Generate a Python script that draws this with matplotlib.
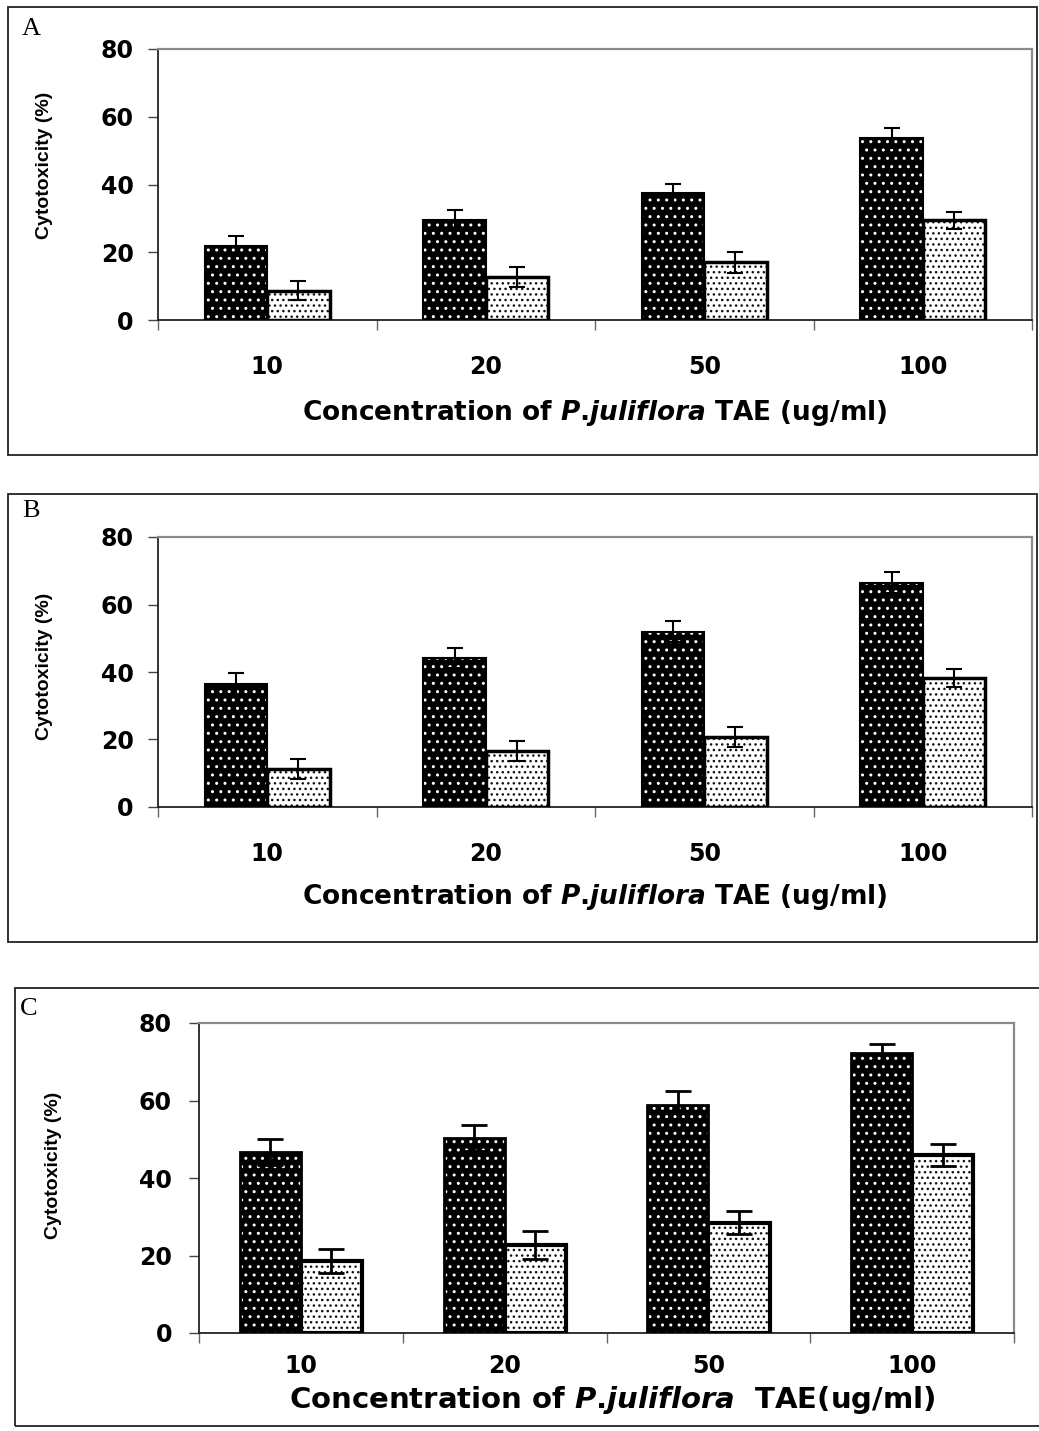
import numpy as np
import matplotlib
matplotlib.use('Agg')
import matplotlib.pyplot as plt
from matplotlib.patches import Rectangle

# ---------------------------
# data
# ---------------------------
concentrations = ['10', '20', '50', '100']

a_dark = [21.8, 29.5, 37.4, 53.8]
a_dark_err = [3.0, 2.9, 2.8, 2.9]
a_light = [8.6, 12.6, 17.0, 29.4]
a_light_err = [2.8, 2.9, 3.0, 2.6]

b_dark = [36.5, 44.2, 52.0, 66.5]
b_dark_err = [3.1, 3.0, 3.0, 3.1]
b_light = [11.3, 16.6, 20.8, 38.3]
b_light_err = [3.0, 3.0, 3.0, 2.6]

c_dark = [46.7, 50.3, 58.9, 72.3]
c_dark_err = [3.3, 3.3, 3.6, 2.4]
c_light = [18.6, 22.7, 28.5, 46.0]
c_light_err = [3.2, 3.5, 3.0, 2.8]

yticks = [0, 20, 40, 60, 80]

xlabel_ab = r'Concentration of $\mathbfit{P}$.$\mathbfit{juliflora}$ TAE (ug/ml)'
xlabel_c = r'Concentration of $\mathbfit{P}$.$\mathbfit{juliflora}$  TAE(ug/ml)'

plt.rcParams['hatch.linewidth'] = 1.0

W, H = 1039, 1431
fig = plt.figure(figsize=(W / 100, H / 100), dpi=100)


def px_axes(left, top, right, bottom):
    return fig.add_axes([left / W, 1 - bottom / H, (right - left) / W, (bottom - top) / H])


def frame(left, top, right, bottom):
    fig.patches.append(Rectangle((left / W, 1 - bottom / H), (right - left) / W, (bottom - top) / H,
                                 transform=fig.transFigure, fill=False,
                                 edgecolor='#222222', linewidth=1.3))


def panel(ax, dark, dark_err, light, light_err, w, xlabel, style):
    x = np.arange(len(concentrations))
    # black bars with white dots
    ax.bar(x - w / 2, dark, w, color='black', edgecolor='white', hatch='..', linewidth=0, zorder=2)
    ax.bar(x - w / 2, dark, w, fill=False, edgecolor='black', linewidth=style['blw'], zorder=3)
    # light bars with dark dots
    ax.bar(x + w / 2, light, w, color='white', edgecolor='#111111', hatch='...', linewidth=0, zorder=2)
    ax.bar(x + w / 2, light, w, fill=False, edgecolor='black', linewidth=style['llw'], zorder=3)
    for xx, v, e in [(x - w / 2, dark, dark_err), (x + w / 2, light, light_err)]:
        ax.errorbar(xx, v, yerr=e, fmt='none', ecolor='black', elinewidth=style['elw'],
                    capsize=style['cap'], capthick=style['elw'], zorder=4)

    ax.set_xlim(-0.5, 3.5)
    ax.set_ylim(0, 80)
    ax.set_yticks(yticks)
    ax.set_xticks(x)
    ax.set_xticklabels(concentrations)
    ax.set_xticks(np.arange(-0.5, 4, 1), minor=True)
    ax.tick_params(axis='x', which='major', length=0, pad=style['xpad'])
    ax.tick_params(axis='x', which='minor', length=7, direction='out', color='#666666', width=1)
    ax.tick_params(axis='y', length=7.5, direction='out', color='#444444', width=1, pad=style['ypad'])
    for lab in ax.get_xticklabels() + ax.get_yticklabels():
        lab.set_fontfamily('DejaVu Sans')
        lab.set_fontweight('bold')
        lab.set_fontsize(style['tick_fs'])

    ax.spines['left'].set_color('#222222')
    ax.spines['left'].set_linewidth(1.3)
    ax.spines['bottom'].set_color('#222222')
    ax.spines['bottom'].set_linewidth(1.3)
    for s in ['top', 'right']:
        ax.spines[s].set_color('#8a8a8a')
        ax.spines[s].set_linewidth(1.6)

    ax.set_ylabel('Cytotoxicity (%)', fontsize=14, fontweight='bold', family='Liberation Sans')
    ax.yaxis.set_label_coords(*style['ylab'])
    ax.set_xlabel(xlabel, fontsize=style['xl_fs'], fontweight='bold', family='DejaVu Sans',
                  math_fontfamily='dejavusans')
    ax.xaxis.set_label_coords(*style['xlab'])
    ax.xaxis.label.set_va('center')


style_ab = dict(blw=1.5, llw=2.5, elw=1.5, cap=6, xpad=25, ypad=10,
                tick_fs=17, xl_fs=19, ylab=(-0.12, 0.572), xlab=(0.5, -0.343))

# ---------------------------
# A
# ---------------------------
frame(8, 7, 1037, 455)
axA = px_axes(158, 49, 1032, 320)
panel(axA, a_dark, a_dark_err, a_light, a_light_err, 0.285, xlabel_ab, style_ab)
fig.text(22 / W, 1 - 35 / H, 'A', family='Liberation Serif', fontsize=19, va='baseline')

# ---------------------------
# B
# ---------------------------
frame(8, 494, 1037, 942)
axB = px_axes(158, 537, 1032, 807)
style_b = dict(style_ab, ylab=(-0.12, 0.52), xlab=(0.5, -0.333))
panel(axB, b_dark, b_dark_err, b_light, b_light_err, 0.285, xlabel_ab, style_b)
fig.text(22 / W, 1 - 517 / H, 'B', family='Liberation Serif', fontsize=19, va='baseline')

# ---------------------------
# C
# ---------------------------
frame(15, 988, 1060, 1426)
axC = px_axes(199, 1023, 1014, 1333)
style_c = dict(blw=2.0, llw=3.0, elw=2.0, cap=9.5, xpad=15, ypad=12,
               tick_fs=17, xl_fs=21, ylab=(-0.168, 0.542), xlab=(0.507, -0.216))
panel(axC, c_dark, c_dark_err, c_light, c_light_err, 0.30, xlabel_c, style_c)
fig.text(20 / W, 1 - 1015 / H, 'C', family='Liberation Serif', fontsize=19, va='baseline')

fig.savefig('out.png', dpi=100)
